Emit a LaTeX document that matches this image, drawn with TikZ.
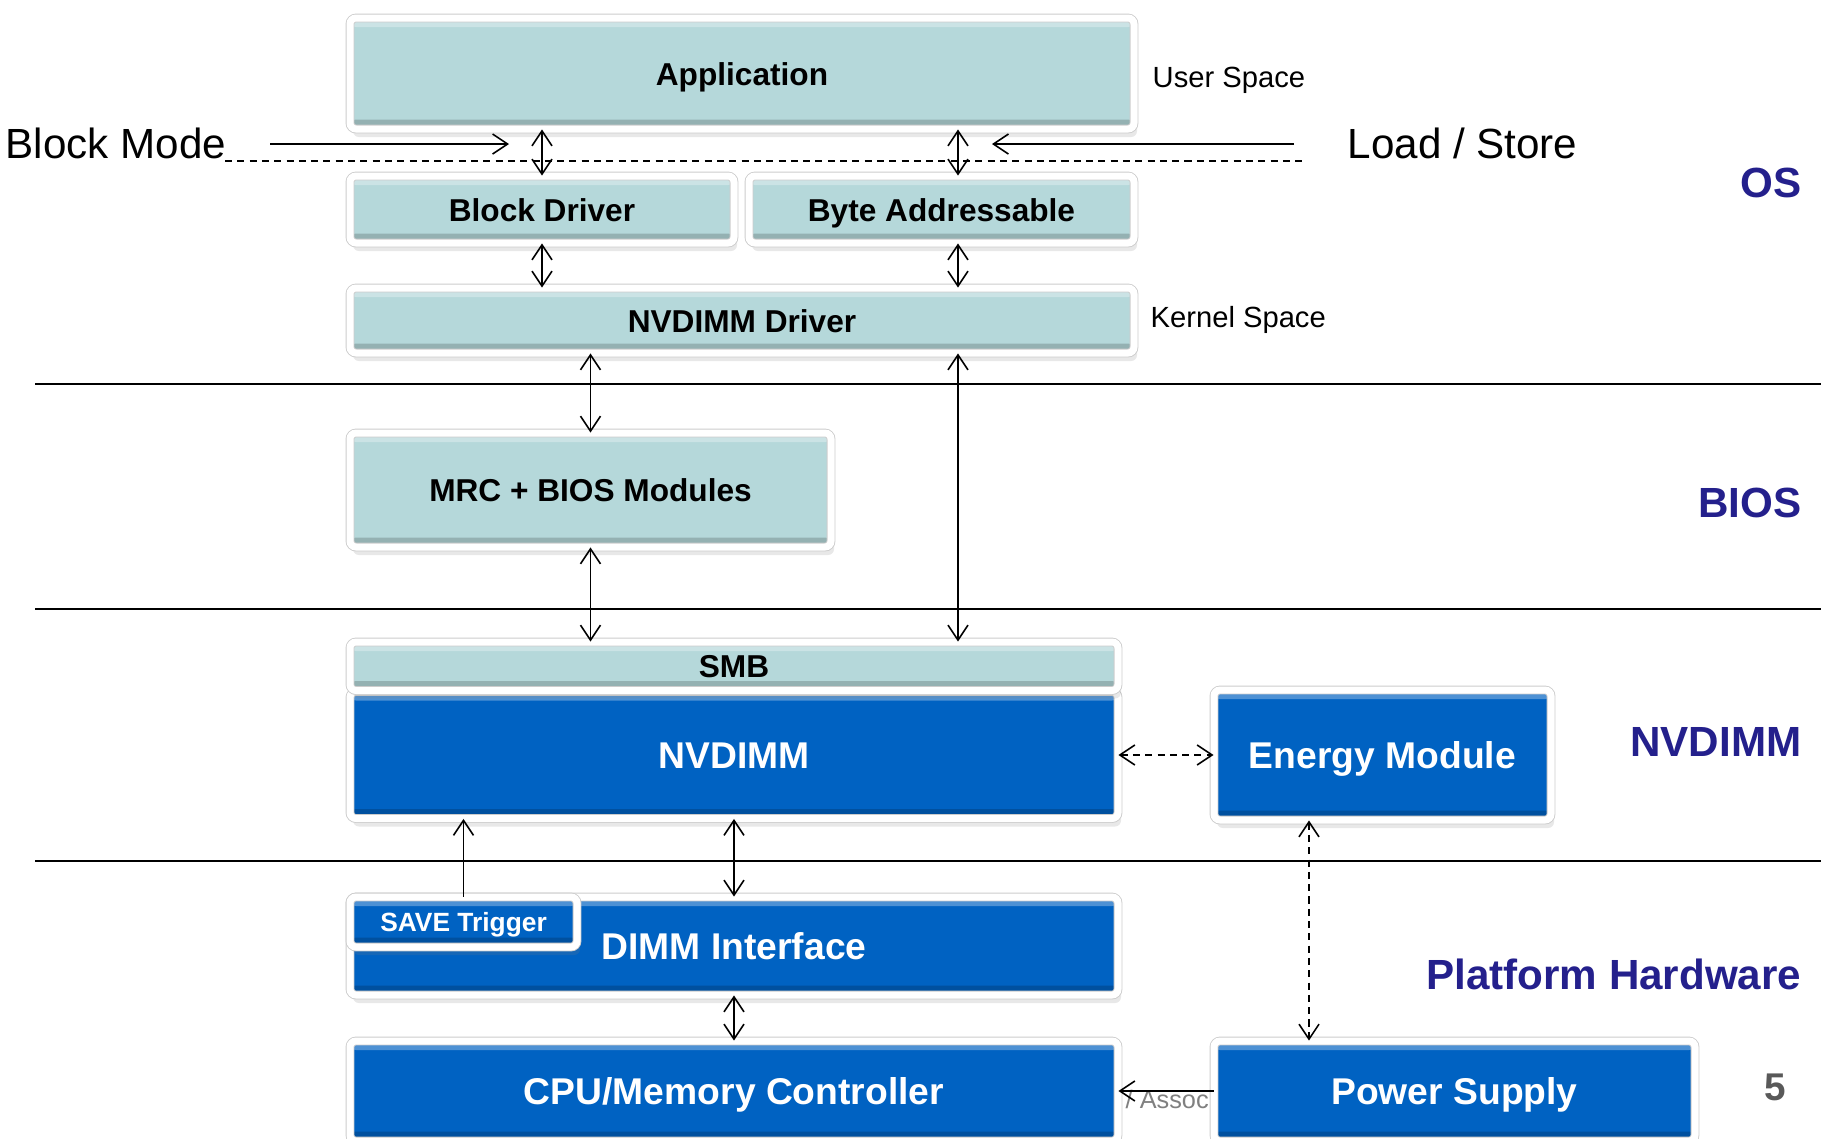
\documentclass[tikz,border=0pt]{standalone}
\usepackage{fontspec}
\setmainfont{Liberation Sans}
\usetikzlibrary{positioning, arrows.meta, shadows}

\definecolor{tealfill}{RGB}{181,216,218}
\definecolor{bluefill}{RGB}{0,98,194}
\definecolor{layerblue}{RGB}{36,32,140}
\definecolor{pagegray}{RGB}{89,89,89}

\tikzset{
  boxframe/.style={rectangle, rounded corners=0.6mm, draw=black!20, double=white,
    double distance=0.7mm, line width=0.25pt, inner sep=0pt, text depth=0pt,
    drop shadow={shadow xshift=0.3mm, shadow yshift=-0.8mm, opacity=0.18},
    path picture={
      \fill[black, opacity=0.18] (path picture bounding box.south west)
        rectangle ([yshift=0.95mm]path picture bounding box.south east);
      \fill[white, opacity=0.3] (path picture bounding box.north west)
        rectangle ([yshift=-0.9mm]path picture bounding box.north east);
    }},
  tealbox/.style={boxframe, fill=tealfill, text=black, text height=2.3mm,
    font=\fontsize{9}{11}\selectfont\bfseries},
  bluebox/.style={boxframe, fill=bluefill, text=white, text height=2.67mm,
    font=\fontsize{10.6}{13}\selectfont\bfseries},
  layer/.style={anchor=base east, inner sep=0pt, text=layerblue, font=\fontsize{12}{14}\selectfont\bfseries},
  biarrow/.style={<->, line width=0.45pt},
  onearrow/.style={->, line width=0.45pt},
  dasharrow/.style={biarrow, dash pattern=on 2pt off 1.5pt},
}

\begin{document}
\begin{tikzpicture}[x=0.1mm, y=-0.1mm, on grid, >={Straight Barb[length=1.5mm, width=2mm]}]
  \path[use as bounding box, fill=white] (0,0) rectangle (1825,1138);

  % separators
  \draw[line width=0.4pt] (35,384) -- (1821,384);
  \draw[line width=0.4pt] (35,609) -- (1821,609);
  \draw[line width=0.4pt] (35,861) -- (1821,861);

  % software stack
  \node[tealbox, minimum width=78.4mm, minimum height=11.1mm] (app) at (742,73.5) {Application};
  \node[tealbox, minimum width=38.4mm, minimum height=6.7mm] (bd) [below=13.6mm of app, xshift=-20mm] {Block Driver};
  \node[tealbox, minimum width=38.5mm, minimum height=6.7mm] (byte) [right=39.95mm of bd] {Byte Addressable};
  \node[tealbox, minimum width=78.4mm, minimum height=6.5mm] (drv) [below=24.7mm of app] {NVDIMM Driver};
  \node[tealbox, minimum width=48.1mm, minimum height=11.4mm] (mrc) at (590.5,490) {MRC + BIOS Modules};

  % module
  \node[bluebox, minimum width=76.8mm, minimum height=12.7mm] (nv) at (734,755) {NVDIMM};
  \node[tealbox, minimum width=76.8mm, minimum height=4.85mm] (smb) [above=8.875mm of nv] {SMB};
  \node[bluebox, minimum width=33.7mm, minimum height=13mm] (em) [right=64.85mm of nv] {Energy Module};

  % platform
  \node[bluebox, minimum width=76.8mm, minimum height=9.8mm] (dimm) at (734,946) {DIMM Interface};
  \node[bluebox, minimum width=22.7mm, minimum height=5mm, anchor=north west, text height=1.89mm,
    font=\fontsize{7.5}{9}\selectfont\bfseries] (save) at (dimm.north west) {SAVE Trigger};
  \node[bluebox, minimum width=76.8mm, minimum height=10mm] (cpu) [below=14.5mm of dimm] {CPU/Memory Controller};
  \node[anchor=base west, inner sep=0pt, text=black!50, font=\fontsize{7.2}{9}\selectfont] (assoc) at (1125,1108) {/ Assoc};
  \node[bluebox, minimum width=48.1mm, minimum height=10mm] (ps) [right=72.05mm of cpu] {Power Supply};

  % side texts
  \node[anchor=base west, inner sep=0pt, font=\fontsize{12}{14}\selectfont] (bmode) at (5,158) {Block Mode};
  \node[anchor=base west, inner sep=0pt, font=\fontsize{12}{14}\selectfont] (lstore) at (1347,158) {Load / Store};
  \node[anchor=base west, inner sep=0pt, font=\fontsize{8.3}{10}\selectfont] (uspace) at (1152,87.5) {User Space};
  \node[anchor=base west, inner sep=0pt, font=\fontsize{8.3}{10}\selectfont] (kspace) at (1150,327.5) {Kernel Space};
  \node[layer] (os) at (1802,197) {OS};
  \node[layer] (bios) at (1802,517) {BIOS};
  \node[layer] (nvl) at (1802,756) {NVDIMM};
  \node[layer] (plat) at (1802,989) {Platform Hardware};
  \node[anchor=base, inner sep=0pt, text=pagegray, font=\fontsize{11}{13}\selectfont\bfseries] (pnum) at (1775,1100) {5};

  \coordinate (bm-from) at (270,144);
  \coordinate (bm-to) at (509,144);
  \coordinate (ls-from) at (1294,144);
  \coordinate (ls-to) at (992,144);
  \coordinate (us-left) at (225,161);
  \coordinate (us-right) at (1306,161);
  \coordinate (lscol) at (958,0);
  \coordinate (pscol) at (1309,0);

  \draw[onearrow] (bm-from) -- (bm-to);
  \draw[onearrow] (ls-from) -- (ls-to);
  \draw[line width=0.45pt, dash pattern=on 2pt off 1.5pt] (us-left) -- (us-right);

  \draw[biarrow] (bd.north) -- (bd.north |- app.south);
  \draw[biarrow] (lscol |- app.south) -- (lscol |- byte.north);
  \draw[biarrow] (bd.south) -- (bd.south |- drv.north);
  \draw[biarrow] (lscol |- byte.south) -- (lscol |- drv.north);
  \draw[biarrow] (mrc.north) -- (mrc.north |- drv.south);
  \draw[biarrow] (lscol |- drv.south) -- (lscol |- smb.north);
  \draw[biarrow] (mrc.south) -- (mrc.south |- smb.north);
  \draw[dasharrow] (nv.east) -- (nv.east -| em.west);
  \draw[onearrow] (save.north) -- (save.north |- nv.south);
  \draw[biarrow] (dimm.north) -- (dimm.north |- nv.south);
  \draw[biarrow] (dimm.south) -- (dimm.south |- cpu.north);
  \draw[dasharrow] (pscol |- em.south) -- (pscol |- ps.north);
  \draw[onearrow] (ps.west) -- (ps.west -| cpu.east);
\end{tikzpicture}
\end{document}
